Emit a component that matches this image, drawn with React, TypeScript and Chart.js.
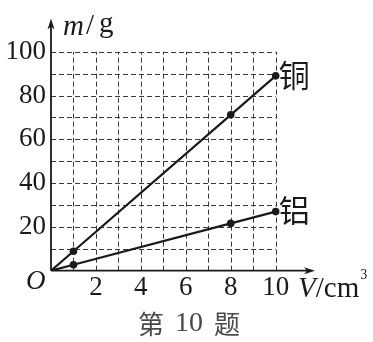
import React, { useEffect, useRef } from "react";
import { Chart, registerables } from "chart.js";

Chart.register(...registerables);

// ---- data ----
const volumes = [0, 1, 8, 10];
const copperMass = [0, 8.9, 71.2, 89];
const aluminumMass = [0, 2.7, 21.6, 27];
const xTickLabels = [2, 4, 6, 8, 10];
const yTickLabels = [20, 40, 60, 80, 100];
const xGridLines = [1, 2, 3, 4, 5, 6, 7, 8, 9, 10];
const yGridLines = [10, 20, 30, 40, 50, 60, 70, 80, 90, 100];
const seriesNames = ["铜", "铝"];
const caption = "第 10 题";

const INK = "#1a1a1a";
const SERIF = "'Liberation Serif', 'Times New Roman', serif";
const CJK = "'Noto Sans CJK SC', sans-serif";

const paperPlugin = {
  id: "paper",
  beforeDatasetsDraw(chart: any) {
    const { ctx, chartArea, scales } = chart;
    const x = scales.x;
    const y = scales.y;
    const x0 = x.getPixelForValue(0);
    const y0 = y.getPixelForValue(0);
    const xg = x.getPixelForValue(xGridLines[xGridLines.length - 1]);
    const yg = y.getPixelForValue(yGridLines[yGridLines.length - 1]);
    ctx.save();
    ctx.strokeStyle = "#3a3a3a";
    ctx.lineWidth = 1;
    ctx.setLineDash([5, 3]);
    for (const v of xGridLines) {
      const px = Math.round(x.getPixelForValue(v)) + 0.5;
      ctx.beginPath();
      ctx.moveTo(px, y0);
      ctx.lineTo(px, yg);
      ctx.stroke();
    }
    for (const v of yGridLines) {
      const py = Math.round(y.getPixelForValue(v)) + 0.5;
      ctx.beginPath();
      ctx.moveTo(x0, py);
      ctx.lineTo(xg, py);
      ctx.stroke();
    }
    ctx.setLineDash([]);
    // axes
    ctx.strokeStyle = INK;
    ctx.fillStyle = INK;
    ctx.lineWidth = 1.8;
    ctx.beginPath();
    ctx.moveTo(x0, y0);
    ctx.lineTo(x0, chartArea.top + 6);
    ctx.moveTo(x0, y0);
    ctx.lineTo(chartArea.right - 6, y0);
    ctx.stroke();
    // arrow heads
    ctx.beginPath();
    ctx.moveTo(x0, chartArea.top);
    ctx.lineTo(x0 - 3.5, chartArea.top + 11);
    ctx.lineTo(x0, chartArea.top + 8);
    ctx.lineTo(x0 + 3.5, chartArea.top + 11);
    ctx.closePath();
    ctx.fill();
    ctx.beginPath();
    ctx.moveTo(chartArea.right, y0);
    ctx.lineTo(chartArea.right - 11, y0 - 3.5);
    ctx.lineTo(chartArea.right - 8, y0);
    ctx.lineTo(chartArea.right - 11, y0 + 3.5);
    ctx.closePath();
    ctx.fill();
    ctx.restore();
  },
  afterDraw(chart: any) {
    const { ctx, chartArea, scales } = chart;
    const x = scales.x;
    const y = scales.y;
    const x0 = x.getPixelForValue(0);
    const y0 = y.getPixelForValue(0);
    ctx.save();
    ctx.fillStyle = INK;
    ctx.textBaseline = "middle";
    ctx.textAlign = "left";
    // origin
    ctx.font = `italic 27px ${SERIF}`;
    ctx.fillText("O", x0 - 25, y0 + 11);
    // y axis title m/g
    let tx = x0 + 12;
    const ty = chartArea.top + 9;
    ctx.font = `italic 29px ${SERIF}`;
    ctx.fillText("m", tx, ty);
    tx += ctx.measureText("m").width + 2;
    ctx.font = `29px ${SERIF}`;
    ctx.fillText("/", tx, ty - 1);
    tx += ctx.measureText("/").width + 5;
    ctx.fillText("g", tx, ty - 3);
    // x axis title V/cm3
    let vx = chartArea.right - 17;
    const vy = y0 + 19;
    ctx.font = `italic 29px ${SERIF}`;
    ctx.fillText("V", vx, vy);
    vx += ctx.measureText("V").width;
    ctx.font = `29px ${SERIF}`;
    ctx.fillText("/cm", vx, vy);
    vx += ctx.measureText("/cm").width + 1;
    ctx.font = `14px ${SERIF}`;
    ctx.fillText("3", vx, vy - 14);
    // series labels
    ctx.font = `31px ${CJK}`;
    const last = volumes.length - 1;
    const series = [copperMass, aluminumMass];
    series.forEach((arr, i) => {
      const px = x.getPixelForValue(volumes[last]);
      const py = y.getPixelForValue(arr[last]);
      ctx.fillText(seriesNames[i], px + 3, py - 1);
    });
    // caption
    ctx.fillStyle = "#4a4a4a";
    const parts = caption.split(" ");
    const fonts = parts.map((p) => (/^[0-9]+$/.test(p) ? `28px ${SERIF}` : `26px ${CJK}`));
    const gap = 11;
    let total = 0;
    parts.forEach((p, i) => {
      ctx.font = fonts[i];
      total += ctx.measureText(p).width;
    });
    total += gap * (parts.length - 1);
    let cx = 189 - total / 2;
    const cy = chart.height - 18;
    parts.forEach((p, i) => {
      ctx.font = fonts[i];
      ctx.fillText(p, cx, cy);
      cx += ctx.measureText(p).width + gap;
    });
    ctx.restore();
  },
};

export default function App() {
  const ref = useRef<HTMLCanvasElement | null>(null);
  useEffect(() => {
    if (!ref.current) return;
    const mk = (arr: number[]) => volumes.map((v, i) => ({ x: v, y: arr[i] }));
    const radii = volumes.map((v) => (v === 0 ? 0 : 3.8));
    const chart = new Chart(ref.current, {
      type: "scatter",
      data: {
        datasets: [
          {
            label: seriesNames[0],
            data: mk(copperMass),
            showLine: true,
            borderColor: INK,
            backgroundColor: INK,
            borderWidth: 2.2,
            pointRadius: radii,
            pointBorderWidth: 0,
          },
          {
            label: seriesNames[1],
            data: mk(aluminumMass),
            showLine: true,
            borderColor: INK,
            backgroundColor: INK,
            borderWidth: 2.2,
            pointRadius: radii,
            pointBorderWidth: 0,
          },
        ],
      },
      options: {
        animation: false,
        responsive: false,
        events: [],
        layout: { padding: { left: 0, top: 14, right: 58, bottom: 30 } },
        plugins: {
          legend: { display: false },
          tooltip: { enabled: false },
          title: { display: false },
        },
        scales: {
          x: {
            type: "linear",
            min: 0,
            max: 11.75,
            grid: { display: false, drawTicks: false },
            border: { display: false },
            afterBuildTicks: (s: any) => {
              s.ticks = xTickLabels.map((v) => ({ value: v }));
            },
            afterFit: (s: any) => {
              s.height = 41.3;
            },
            ticks: {
              color: INK,
              padding: 4,
              maxRotation: 0,
              autoSkip: false,
              font: { family: SERIF, size: 27, lineHeight: 1 },
            },
          },
          y: {
            type: "linear",
            min: 0,
            max: 115.2,
            grid: { display: false, drawTicks: false },
            border: { display: false },
            afterBuildTicks: (s: any) => {
              s.ticks = yTickLabels.map((v) => ({ value: v }));
            },
            afterFit: (s: any) => {
              s.width = 51;
            },
            ticks: {
              color: INK,
              padding: 5,
              autoSkip: false,
              font: { family: SERIF, size: 27, lineHeight: 1 },
            },
          },
        },
      },
      plugins: [paperPlugin],
    } as any);
    return () => chart.destroy();
  }, []);
  return (
    <div style={{ position: "absolute", left: 0, top: 0, width: 373, height: 342, background: "#fff" }}>
      <canvas ref={ref} width={373} height={342} style={{ display: "block" }} />
    </div>
  );
}
